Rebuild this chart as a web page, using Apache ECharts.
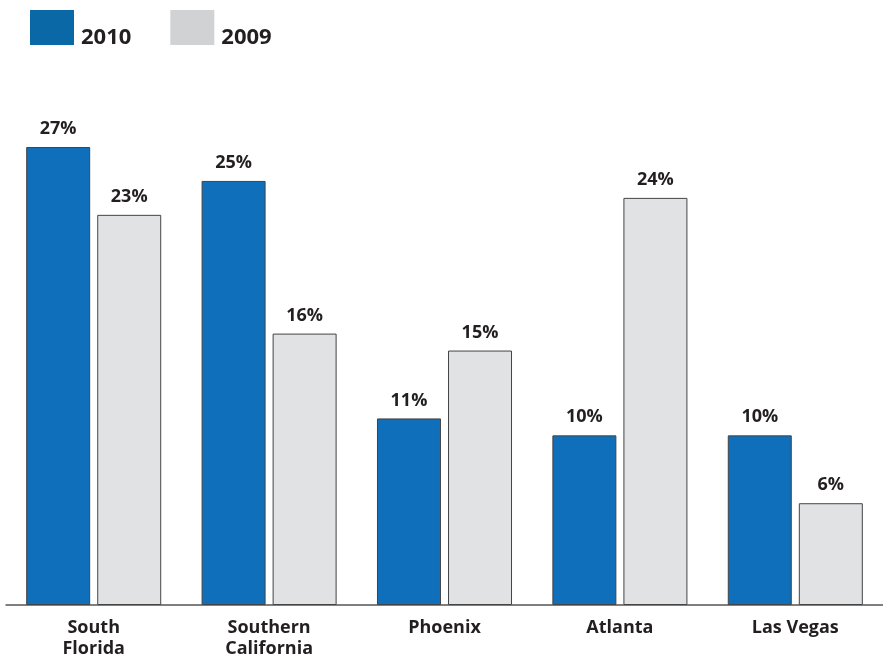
<!DOCTYPE html>
<html>
<head>
<meta charset="utf-8">
<script src="https://cdn.jsdelivr.net/npm/echarts@6/dist/echarts.min.js"></script>
<style>html,body{margin:0;padding:0;background:#fff}#c{width:883px;height:659px}</style>
</head>
<body>
<div id="c"></div>
<script>
const categories = ['South\nFlorida', 'Southern\nCalifornia', 'Phoenix', 'Atlanta', 'Las Vegas'];
const values2010 = [27, 25, 11, 10, 10];
const values2009 = [23, 16, 15, 24, 6];
const seriesNames = ['2010', '2009'];

const chart = echarts.init(document.getElementById('c'));
const font = '"Open Sans", Lato, sans-serif';
const labelCfg = {
  show: true, position: 'top', distance: 9,
  formatter: '{c}%', color: '#231f20', fontFamily: font, fontWeight: 'bold', fontSize: 18
};
chart.setOption({
  animation: false,
  legend: {
    left: 30, top: 10, padding: 0,
    itemWidth: 44, itemHeight: 35, itemGap: 39,
    icon: 'rect',
    formatter: '{a|{name}}',
    textStyle: {
      color: '#231f20', fontFamily: font, fontWeight: 'bold', fontSize: 22,
      rich: { a: { color: '#231f20', fontFamily: font, fontWeight: 'bold', fontSize: 22, padding: [20, 0, 0, 2] } }
    },
    data: [
      { name: seriesNames[0], itemStyle: { color: '#0a68a6', borderWidth: 0 } },
      { name: seriesNames[1], itemStyle: { color: '#d1d2d4', borderWidth: 0 } }
    ]
  },
  grid: { left: 6, width: 885, top: 147, height: 464, containLabel: false },
  xAxis: {
    type: 'category', data: categories,
    axisLine: { lineStyle: { color: '#555', width: 1.5 } },
    axisTick: { show: false },
    axisLabel: { color: '#231f20', fontFamily: font, fontWeight: 'bold', fontSize: 18, lineHeight: 21, margin: 12, interval: 0 }
  },
  yAxis: { type: 'value', min: 0, max: 27, show: false, splitLine: { show: false } },
  series: [
    { name: seriesNames[0], type: 'bar', data: values2010, barWidth: 64, barGap: '11%',
      itemStyle: { color: '#0f6fba', borderColor: '#444', borderWidth: 1 }, label: labelCfg },
    { name: seriesNames[1], type: 'bar', data: values2009, barWidth: 64,
      itemStyle: { color: '#e1e2e4', borderColor: '#444', borderWidth: 1 }, label: labelCfg }
  ]
});
</script>
</body>
</html>
